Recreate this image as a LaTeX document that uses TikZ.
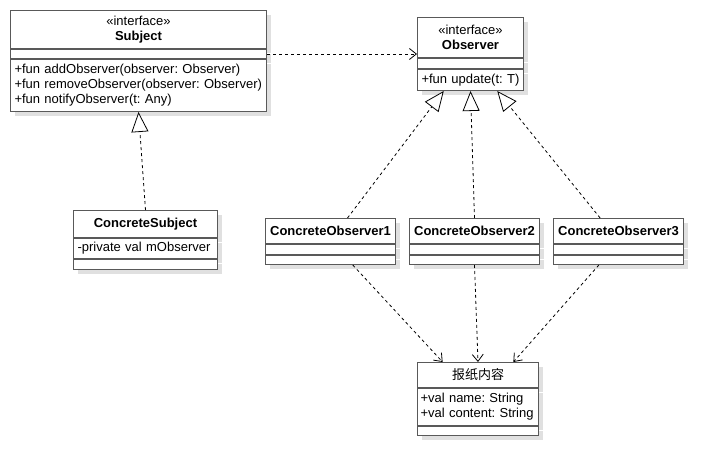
\documentclass[tikz,border=0pt]{standalone}
\usepackage{fontspec}
\setmainfont{Liberation Sans}
\newfontfamily\cjk{Noto Sans CJK SC}
\usetikzlibrary{positioning,calc,arrows.meta,shadows}
\frenchspacing

\tikzset{
  box/.style={draw=black!65, line width=1pt, fill=white, anchor=north west, inner sep=0pt,
    font=\fontsize{13}{15}\selectfont,
    drop shadow={shadow xshift=4pt, shadow yshift=-4pt, fill=black!12, opacity=1}},
  memb/.style={box, align=left, inner xsep=4pt},
  dep/.style={draw, line width=0.8pt, dash pattern=on 3pt off 3pt, -{Straight Barb[length=7pt,width=11pt]}},
  impl/.style={draw, line width=0.8pt, dash pattern=on 3pt off 3pt, -{Triangle[open,fill=white,length=20pt,width=17pt]}}
}

\begin{document}
\begin{tikzpicture}[x=1pt,y=-1pt]
\useasboundingbox (0,0) rectangle (723,474);

% Subject
\node[box, minimum width=256, minimum height=38, align=center] (subjH) at (10,10) {«interface»\\\textbf{Subject}};
\node[box, minimum width=256, minimum height=9] (subjA) at (subjH.south west) {};
\node[memb, text width=248pt, minimum height=52] (subjM) at (subjA.south west) {+fun addObserver(observer: Observer)\\+fun removeObserver(observer: Observer)\\+fun notifyObserver(t: Any)};

% Observer
\node[box, minimum width=106, minimum height=40, align=center] (obsH) at (417,17) {«interface»\\\textbf{Observer}};
\node[box, minimum width=106, minimum height=10] (obsA) at (obsH.south west) {};
\node[memb, text width=98pt, minimum height=21] (obsM) at (obsA.south west) {+fun update(t: T)};

% ConcreteSubject
\node[box, minimum width=144, minimum height=27] (csH) at (73,210) {\textbf{ConcreteSubject}};
\node[memb, text width=136pt, minimum height=20] (csA) at (csH.south west) {-private val mObserver};
\node[box, minimum width=144, minimum height=10] (csM) at (csA.south west) {};

% ConcreteObserver 1..3
\foreach \i/\x in {1/265,2/409,3/553}{
  \node[box, minimum width=130, minimum height=25] (co\i H) at (\x,218) {\textbf{ConcreteObserver\i}};
  \node[box, minimum width=130, minimum height=10] (co\i A) at (co\i H.south west) {};
  \node[box, minimum width=130, minimum height=9] (co\i M) at (co\i A.south west) {};
}

% news
\node[box, minimum width=121, minimum height=25] (newsH) at (417,362) {\cjk 报纸内容};
\node[memb, inner xsep=3pt, text width=115pt, minimum height=37] (newsA) at (newsH.south west) {+val name: String\\+val content: String};
\node[box, minimum width=121, minimum height=9] (newsM) at (newsA.south west) {};

% arrows
\draw[dep] (subjA.east) -- (subjA.east -| obsH.west);
\draw[impl] (csH.north) -- (subjM.south);
\draw[impl] ($(co1H.north west)!0.63!(co1H.north east)$) -- ($(obsM.south west)!0.25!(obsM.south east)$);
\draw[impl] (co2H.north) -- (obsM.south);
\draw[impl] ($(co3H.north west)!0.36!(co3H.north east)$) -- ($(obsM.south west)!0.75!(obsM.south east)$);
\draw[dep] ($(co1M.south west)!0.67!(co1M.south east)$) -- ($(newsH.north west)!0.21!(newsH.north east)$);
\draw[dep] (co2M.south) -- (newsH.north);
\draw[dep] ($(co3M.south west)!0.35!(co3M.south east)$) -- ($(newsH.north west)!0.79!(newsH.north east)$);

\end{tikzpicture}
\end{document}
